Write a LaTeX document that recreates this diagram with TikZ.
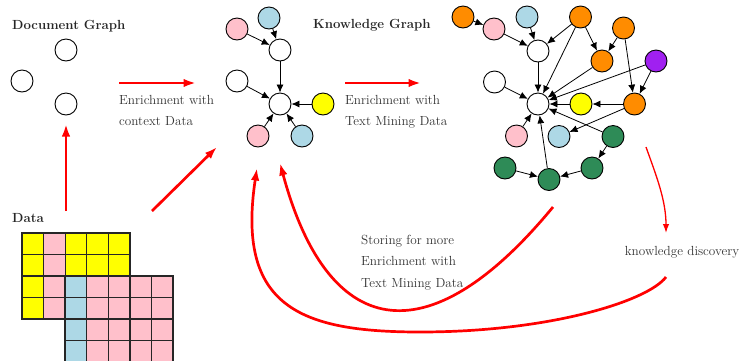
\documentclass[tikz,border=0pt]{standalone}
\usetikzlibrary{arrows.meta}
\definecolor{gpink}{RGB}{255,192,203}
\definecolor{gblue}{RGB}{173,216,230}
\definecolor{gyellow}{RGB}{255,255,0}
\definecolor{gorange}{RGB}{255,140,0}
\definecolor{gpurple}{RGB}{160,32,240}
\definecolor{ggreen}{RGB}{46,139,87}
\definecolor{gred}{RGB}{255,0,0}
\begin{document}
\begin{tikzpicture}[x=1pt,y=-1pt,
  vtx/.style={circle,draw=black,line width=0.9pt,minimum size=22pt,inner sep=0pt},
  edge/.style={line width=0.8pt,-{Latex[length=8pt,width=7pt]}},
  bigarrow/.style={draw=gred,line width=2.7pt,-{Latex[length=12.5pt,width=8.5pt]}},
  thinarrow/.style={draw=gred,line width=1.3pt,-{Latex[length=9pt,width=6.5pt]}},
  lbl/.style={font=\fontsize{13.2}{21.3}\selectfont,inner sep=0pt,align=left,text=black!80},
  ttl/.style={font=\fontsize{13.2}{16}\selectfont\bfseries,inner sep=0pt,anchor=base west,text=black!85},
  cell/.style={draw=black!85,line width=1.1pt}
]
\useasboundingbox (0,0) rectangle (742,360);

% ---------- titles ----------
\node[ttl] (tdoc) at (12,29) {Document Graph};
\node[ttl] (tkg) at (313,28.5) {Knowledge Graph};
\node[ttl] (tdata) at (12,222.7) {Data};

% ---------- data grids ----------
\foreach \i in {0,...,4}{
  \foreach \j in {0,...,3}{
    \ifnum\i=1 \def\cc{gpink}\else\def\cc{gyellow}\fi
    \path[cell,fill=\cc] (22+\i*21.6,233+\j*21.5) rectangle ++(21.6,21.5);
  }
}
\draw[line width=1.5pt,black!85] (22,233) rectangle (130,319);
\foreach \i in {0,...,4}{
  \foreach \j in {0,...,3}{
    \ifnum\i=0 \def\cc{gblue}\else\def\cc{gpink}\fi
    \path[cell,fill=\cc] (65.2+\i*21.6,276+\j*21.5) rectangle ++(21.6,21.5);
  }
}
\draw[line width=1.5pt,black!85] (65.2,276) rectangle (173.2,362);

% ---------- document graph ----------
\node[vtx] (d1) at (66,50) {};
\node[vtx] (d2) at (22,81) {};
\node[vtx] (d3) at (66,104) {};

% ---------- enriched graph ----------
\node[vtx,fill=gpink] (m1) at (237,29) {};
\node[vtx,fill=gblue] (m2) at (269,18) {};
\node[vtx] (m3) at (280,50) {};
\node[vtx] (m4) at (237,81) {};
\node[vtx] (mc) at (280,104) {};
\node[vtx,fill=gyellow] (m5) at (323,104) {};
\node[vtx,fill=gpink] (m6) at (258,136) {};
\node[vtx,fill=gblue] (m7) at (302,136) {};
\draw[edge] (m1) -- (m3);
\draw[edge] (m2) -- (m3);
\draw[edge] (m3) -- (mc);
\draw[edge] (m4) -- (mc);
\draw[edge] (m5) -- (mc);
\draw[edge] (m6) -- (mc);
\draw[edge] (m7) -- (mc);

% ---------- knowledge graph ----------
\node[vtx,fill=gorange] (oa) at (463,17) {};
\node[vtx,fill=gpink] (kp) at (494,29) {};
\node[vtx,fill=gblue] (kb) at (527,17) {};
\node[vtx] (kt) at (538,51) {};
\node[vtx,fill=gorange] (ob) at (580.5,17) {};
\node[vtx,fill=gorange] (oc) at (623.5,28) {};
\node[vtx,fill=gorange] (od) at (602,61) {};
\node[vtx,fill=gpurple] (kv) at (656,61) {};
\node[vtx] (kl) at (494.5,82) {};
\node[vtx] (kc) at (538,104) {};
\node[vtx,fill=gyellow] (ky) at (581,104) {};
\node[vtx,fill=gorange] (oe) at (634.5,104) {};
\node[vtx,fill=gpink] (kp2) at (516.5,136) {};
\node[vtx,fill=gblue] (kb2) at (559,136.5) {};
\node[vtx,fill=ggreen] (gf) at (613,136.5) {};
\node[vtx,fill=ggreen] (gg) at (505,168) {};
\node[vtx,fill=ggreen] (gh) at (549,179.5) {};
\node[vtx,fill=ggreen] (gi) at (592,168) {};
\draw[edge] (oa) -- (kp);
\draw[edge] (kp) -- (kt);
\draw[edge] (kb) -- (kt);
\draw[edge] (ob) -- (kt);
\draw[edge] (ob) -- (kc);
\draw[edge] (ob) -- (od);
\draw[edge] (oc) -- (od);
\draw[edge] (oc) -- (oe);
\draw[edge] (kt) -- (kc);
\draw[edge] (od) -- (kc);
\draw[edge] (kv) -- (kc);
\draw[edge] (kv) -- (oe);
\draw[edge] (kl) -- (kc);
\draw[edge] (ky) -- (kc);
\draw[edge] (oe) -- (ky);
\draw[edge] (oe) -- (kb2);
\draw[edge] (kp2) -- (kc);
\draw[edge] (gf) -- (kc);
\draw[edge] (gf) -- (gi);
\draw[edge] (gi) -- (gh);
\draw[edge] (gg) -- (gh);
\draw[edge] (gh) -- (kc);

% ---------- labels ----------
\node[lbl,anchor=north west] (l1) at (119,94.8) {Enrichment with\\context Data};
\node[lbl,anchor=north west] (l2) at (345,94.8) {Enrichment with\\Text Mining Data};
\node[lbl,anchor=north west] (l3) at (361,235.1) {Storing for more\\Enrichment with\\Text Mining Data};
\node[lbl,anchor=base] (l4) at (682,255) {knowledge discovery};

% ---------- red arrows ----------
\coordinate (a1s) at (119,83);  \coordinate (a1e) at (196,83);
\coordinate (a2s) at (345,83);  \coordinate (a2e) at (421,83);
\coordinate (a3s) at (66,211);  \coordinate (a3e) at (66,124);
\coordinate (a4s) at (152,211); \coordinate (a4e) at (217,147);
\coordinate (c1s) at (553,207); \coordinate (c1e) at (280,163);
\coordinate (c2s) at (666,277); \coordinate (c2m) at (420,332); \coordinate (c2e) at (257,168);
\coordinate (kds) at (646,147); \coordinate (kde) at (666,233);

\draw[bigarrow] (a1s) -- (a1e);
\draw[bigarrow] (a2s) -- (a2e);
\draw[bigarrow] (a3s) -- (a3e);
\draw[bigarrow] (a4s) -- (a4e);
\draw[bigarrow] (c1s) .. controls (426,361) and (327,338) .. (c1e);
\draw[bigarrow] (c2s) .. controls (648,301) and (550,332) .. (c2m)
                      .. controls (300,332) and (236,306.6) .. (c2e);
\draw[thinarrow] (kds) .. controls (656,175) and (666,200) .. (kde);
\end{tikzpicture}
\end{document}
